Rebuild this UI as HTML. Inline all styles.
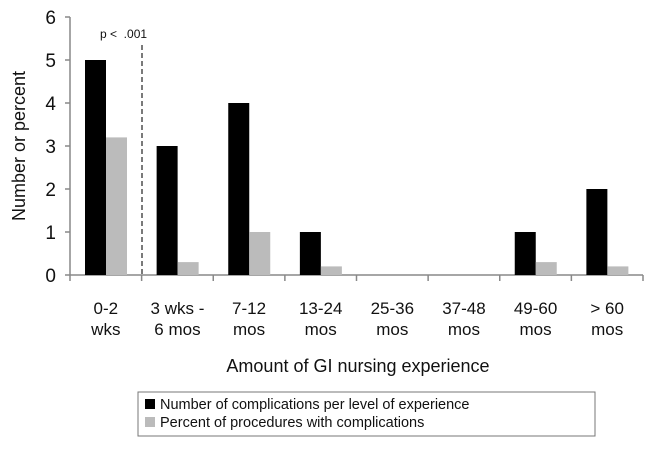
<!DOCTYPE html>
<html><head><meta charset="utf-8"><style>
body{margin:0;background:#fff;}
svg text{font-family:"Liberation Sans",Arial,sans-serif;fill:#111;}
</style></head><body>
<svg id="chart" width="653" height="444"></svg>
<script>
const categories=[["0-2","wks"],["3 wks -","6 mos"],["7-12","mos"],["13-24","mos"],["25-36","mos"],["37-48","mos"],["49-60","mos"],["> 60","mos"]];
const complications=[5,3,4,1,0,0,1,2];
const percents=[3.2,0.3,1,0.2,0,0,0.3,0.2];
const yTicks=[0,1,2,3,4,5,6];
const NS="http://www.w3.org/2000/svg";
const svg=document.getElementById('chart');
const x0=70,x1=643,y0=275,yTop=17;
const cw=(x1-x0)/categories.length;
const yS=v=>y0-(v/6)*(y0-yTop);
const xS=i=>x0+i*cw;
function mk(t,a,p){const e=document.createElementNS(NS,t);for(const k in a)e.setAttribute(k,a[k]);(p||svg).appendChild(e);return e;}
let ax=mk('line',{x1:x0,y1:yTop,x2:x0,y2:y0,stroke:'#888','stroke-width':1.5});


let bx=mk('line',{x1:x0,y1:y0,x2:x1,y2:y0,stroke:'#888','stroke-width':1.5});


yTicks.forEach(v=>{
 mk('line',{x1:x0-5,y1:yS(v),x2:x0,y2:yS(v),stroke:'#888','stroke-width':1.5});
 let t=mk('text',{x:x0-14,y:yS(v)+7,'text-anchor':'end','font-size':19});t.textContent=v;
 
 
});
for(let i=0;i<=categories.length;i++){mk('line',{x1:xS(i),y1:y0,x2:xS(i),y2:y0+6,stroke:'#888','stroke-width':1.5});}
categories.forEach((c,i)=>{
 const cx=xS(i)+cw/2;
 let b=mk('rect',{x:xS(i)+15,y:yS(complications[i]),width:21,height:y0-yS(complications[i]),fill:'#000'});
 
 
 let g=mk('rect',{x:xS(i)+36,y:yS(percents[i]),width:21,height:y0-yS(percents[i]),fill:'#bbb'});
 
 
 c.forEach((ln,j)=>{let t=mk('text',{x:cx,y:314+j*21,'text-anchor':'middle','font-size':17});t.textContent=ln;
  
  });
});
let dl=mk('line',{x1:142,y1:45,x2:142,y2:y0,stroke:'#333','stroke-width':1.3,'stroke-dasharray':'5,3'});


let pt=mk('text',{x:100,y:38,'font-size':12});pt.textContent='p <\u00a0\u00a0.001';


let yt=mk('text',{x:0,y:0,'font-size':18,'text-anchor':'middle',transform:'translate(25,146) rotate(-90)'});yt.textContent='Number or percent';


let xt=mk('text',{x:358,y:372,'font-size':18,'text-anchor':'middle'});xt.textContent='Amount of GI nursing experience';


let lg=mk('g',{});


mk('rect',{x:138,y:392,width:457,height:44,fill:'#fff',stroke:'#777','stroke-width':1},lg);
mk('rect',{x:145,y:399,width:10,height:10,fill:'#000'},lg);
mk('rect',{x:145,y:417,width:10,height:10,fill:'#bbb'},lg);
let l1=mk('text',{x:160,y:409,'font-size':14.5},lg);l1.textContent='Number of complications per level of experience';


let l2=mk('text',{x:160,y:427,'font-size':14.5},lg);l2.textContent='Percent of  procedures with complications';


</script>
</body></html>
